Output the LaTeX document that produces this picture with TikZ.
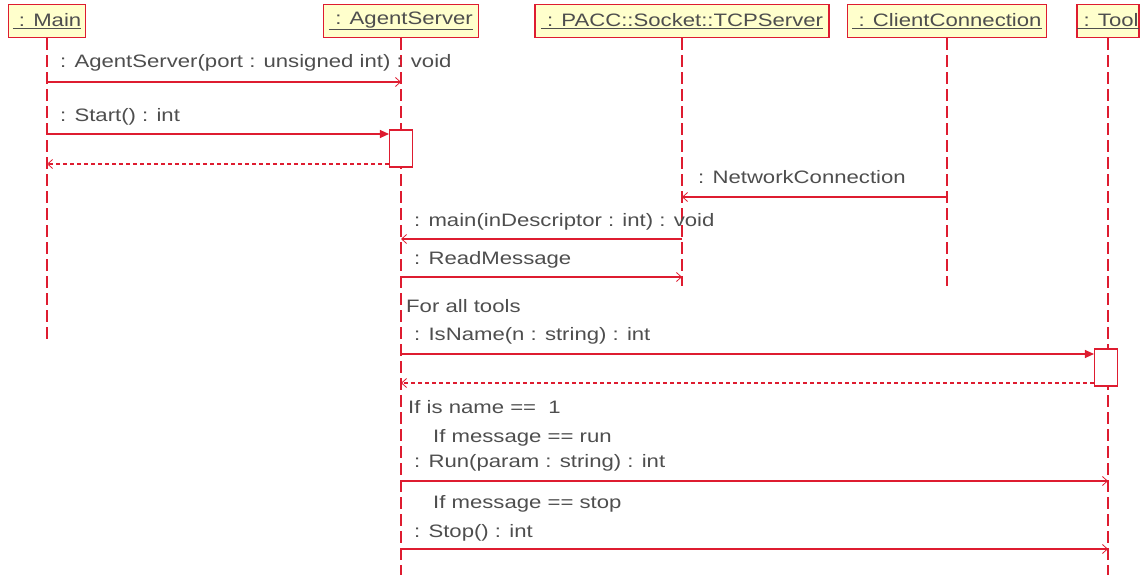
\documentclass[tikz,border=0pt]{standalone}
\usepackage{fontspec}
\setmainfont{Liberation Sans}
\usetikzlibrary{arrows.meta}

\definecolor{seqred}{RGB}{222,28,48}
\definecolor{boxfill}{RGB}{255,255,204}
\definecolor{txtgray}{RGB}{78,78,78}

% horizontally widened text, as in the printed labels
\newcommand{\wide}[1]{\scalebox{1.23}[1]{#1}}

\begin{document}
\begin{tikzpicture}[x=1pt, y=-1pt,
  font=\fontsize{18}{21}\selectfont,
  head/.style={draw=seqred, line width=1.3pt, fill=boxfill, minimum height=33pt,
               inner sep=0pt, text=txtgray},
  lifeline/.style={draw=seqred, line width=1.1pt, dash pattern=on 12pt off 5pt},
  msg/.style={draw=seqred, line width=1.1pt,
              -{Straight Barb[length=5pt,width=9pt,line width=0.8pt]}},
  call/.style={draw=seqred, line width=1.1pt, -{Triangle[length=9pt,width=8pt]}},
  reply/.style={msg, dash pattern=on 4pt off 3pt},
  act/.style={draw=seqred, line width=1.1pt, fill=white, minimum width=23pt,
              minimum height=37pt, inner sep=0pt},
  lbl/.style={anchor=base west, inner sep=0pt, text=txtgray}]

\useasboundingbox (0,0) rectangle (1143,575);

% object headers
\node[head, minimum width=77pt]  (main)   at (47,21)  {\wide{\underline{\ : Main}}};
\node[head, minimum width=155pt] (agent)  at (401,21) {\wide{\underline{\ : AgentServer}}};
\node[head, minimum width=294pt] (tcp)    at (682,21) {\wide{\underline{\ : PACC::Socket::TCPServer}}};
\node[head, minimum width=199pt] (client) at (947,21) {\wide{\underline{\ : ClientConnection}}};
\node[head, minimum width=62pt]  (tool)   at (1108,21){\wide{\underline{\ : Tool}}};

% lifeline ends
\coordinate (mainEnd)   at (47,340);
\coordinate (agentEnd)  at (401,575);
\coordinate (tcpEnd)    at (682,286);
\coordinate (clientEnd) at (947,286);
\coordinate (toolEnd)   at (1108,575);

\draw[lifeline] (main.south)   -- (mainEnd);
\draw[lifeline] (agent.south)  -- (agentEnd);
\draw[lifeline] (tcp.south)    -- (tcpEnd);
\draw[lifeline] (client.south) -- (clientEnd);
\draw[lifeline] (tool.south)   -- (toolEnd);

% activation bars
\node[act] (actA) at (401,148.5) {};
\node[act] (actT) at (1106,367.5) {};

% message rows
\coordinate (m1) at (0,82);
\coordinate (m2) at (0,134);
\coordinate (m3) at (0,164);
\coordinate (m4) at (0,197);
\coordinate (m5) at (0,239);
\coordinate (m6) at (0,277);
\coordinate (m7) at (0,354);
\coordinate (m8) at (0,383);
\coordinate (m9) at (0,481);
\coordinate (m10) at (0,549);

\draw[msg]   (main |- m1) -- (agent |- m1);
\draw[call]  (main |- m2) -- (actA.west |- m2);
\draw[reply] (actA.west |- m3) -- (main |- m3);
\draw[msg]   (client |- m4) -- (tcp |- m4);
\draw[msg]   (tcp |- m5) -- (agent |- m5);
\draw[msg]   (agent |- m6) -- (tcp |- m6);
\draw[call]  (agent |- m7) -- (actT.west |- m7);
\draw[reply] (actT.west |- m8) -- (agent |- m8);
\draw[msg]   (agent |- m9) -- (tool |- m9);
\draw[msg]   (agent |- m10) -- (tool |- m10);

% labels
\node[lbl] (l1)  at (60,68)   {\wide{: AgentServer(port : unsigned int) : void}};
\node[lbl] (l2)  at (60,122)  {\wide{: Start() : int}};
\node[lbl] (l3)  at (698,183) {\wide{: NetworkConnection}};
\node[lbl] (l4)  at (414,226) {\wide{: main(inDescriptor : int) : void}};
\node[lbl] (l5)  at (414,264) {\wide{: ReadMessage}};
\node[lbl] (l6)  at (406,312) {\wide{For all tools}};
\node[lbl] (l7)  at (414,340) {\wide{: IsName(n : string) : int}};
\node[lbl] (l8)  at (408,413) {\wide{If is name ==\ \ 1}};
\node[lbl] (l9)  at (433,442) {\wide{If message == run}};
\node[lbl] (l10) at (414,467) {\wide{: Run(param : string) : int}};
\node[lbl] (l11) at (433,508) {\wide{If message == stop}};
\node[lbl] (l12) at (414,537) {\wide{: Stop() : int}};

\end{tikzpicture}
\end{document}
